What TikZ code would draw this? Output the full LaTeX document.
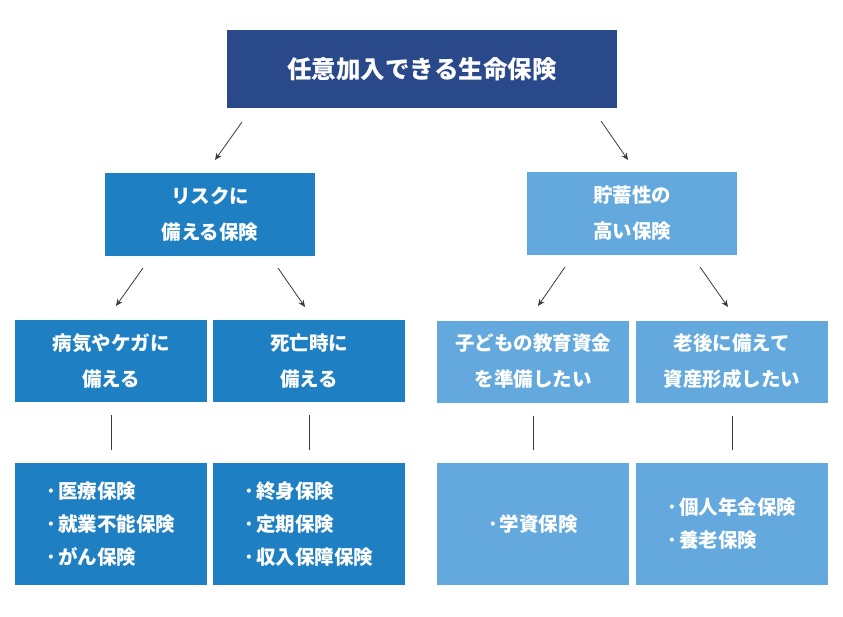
\documentclass[tikz,border=0pt]{standalone}
\usepackage{fontspec}
\setmainfont{Noto Sans CJK JP}
\usetikzlibrary{arrows.meta}
\definecolor{navy}{HTML}{29498B}
\definecolor{midblue}{HTML}{1E7FC3}
\definecolor{lightblue}{HTML}{63A9DD}
\definecolor{linegray}{HTML}{3A3A3A}
\tikzset{
  box/.style={inner sep=0pt, text=white, font=\bfseries\fontsize{19.5}{36}\selectfont, align=center},
  topbox/.style={box, fill=navy, minimum width=390pt, minimum height=78pt, font=\bfseries\fontsize{24.5}{28}\selectfont},
  midbox/.style={box, minimum width=210pt, minimum height=83pt},
  lvbox/.style={box, minimum width=192pt, minimum height=82pt},
  listbox/.style={box, minimum width=192pt, minimum height=122pt},
  listtext/.style={text=white, font=\bfseries\fontsize{19.5}{33}\selectfont, align=left, inner sep=0pt},
  arr/.style={draw=linegray, line width=0.8pt, -{Stealth[length=7pt,width=6pt]}},
  vline/.style={draw=linegray, line width=0.8pt}
}
\newcommand{\bul}{･\hspace{2pt}}
\begin{document}
\begin{tikzpicture}[x=1pt, y=-1pt]
\useasboundingbox (0,0) rectangle (843,616);
\fill[white] (0,0) rectangle (843,616);
\node[topbox] (top) at (422,69) {任意加入できる生命保険};
\node[midbox, fill=midblue] (risk) at (210,214.5) {リスクに\\備える保険};
\node[midbox, fill=lightblue] (save) at (632,213.5) {貯蓄性の\\高い保険};
\node[lvbox, fill=midblue] (ill) at (111,361) {病気やケガに\\備える};
\node[lvbox, fill=midblue] (death) at (309,361) {死亡時に\\備える};
\node[lvbox, fill=lightblue] (edu) at (533,361.5) {子どもの教育資金\\を準備したい};
\node[lvbox, fill=lightblue] (old) at (732,361.5) {老後に備えて\\資産形成したい};
\node[listbox, fill=midblue] (l1) at (111,524) {};
\node[listbox, fill=midblue] (l2) at (309,524) {};
\node[listbox, fill=lightblue] (l3) at (533,524) {};
\node[listbox, fill=lightblue] (l4) at (732,524) {};
\node[listtext] (t1) at (l1.center) {\bul 医療保険\\\bul 就業不能保険\\\bul がん保険};
\node[listtext] (t2) at (l2.center) {\bul 終身保険\\\bul 定期保険\\\bul 収入保障保険};
\node[listtext] (t3) at (l3.center) {\bul 学資保険};
\node[listtext] (t4) at (l4.center) {\bul 個人年金保険\\\bul 養老保険};
% arrow end points
\coordinate (a1s) at (242,122); \coordinate (a1e) at (215,160);
\coordinate (a2s) at (601,121); \coordinate (a2e) at (628,160);
\coordinate (a3s) at (143,268); \coordinate (a3e) at (116,306);
\coordinate (a4s) at (278,268); \coordinate (a4e) at (305,307);
\coordinate (a5s) at (565,267); \coordinate (a5e) at (538,306);
\coordinate (a6s) at (700,267); \coordinate (a6e) at (728,307);
\draw[arr] (a1s) -- (a1e);
\draw[arr] (a2s) -- (a2e);
\draw[arr] (a3s) -- (a3e);
\draw[arr] (a4s) -- (a4e);
\draw[arr] (a5s) -- (a5e);
\draw[arr] (a6s) -- (a6e);
\draw[vline] ([yshift=-13pt]ill.south) -- ([yshift=13pt]l1.north);
\draw[vline] ([yshift=-13pt]death.south) -- ([yshift=13pt]l2.north);
\draw[vline] ([yshift=-13pt]edu.south) -- ([yshift=13pt]l3.north);
\draw[vline] ([yshift=-13pt]old.south) -- ([yshift=13pt]l4.north);
\end{tikzpicture}
\end{document}
